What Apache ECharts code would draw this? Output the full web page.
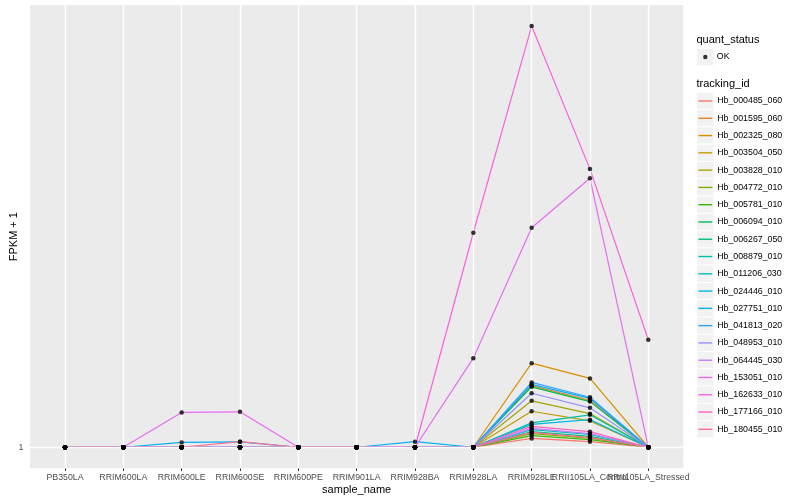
<!DOCTYPE html>
<html>
<head>
<meta charset="utf-8">
<script src="https://cdn.jsdelivr.net/npm/echarts@6/dist/echarts.min.js"></script>
<style>
html,body{margin:0;padding:0;background:#fff;}
#c{width:800px;height:500px;}
</style>
</head>
<body>
<div id="c"></div>
<script>
// ---- data ----
const sampleNames = ['PB350LA','RRIM600LA','RRIM600LE','RRIM600SE','RRIM600PE','RRIM901LA','RRIM928BA','RRIM928LA','RRIM928LE','RRII105LA_Control','RRII105LA_Stressed'];
const trackingIds = ['Hb_000485_060','Hb_001595_060','Hb_002325_080','Hb_003504_050','Hb_003828_010','Hb_004772_010','Hb_005781_010','Hb_006094_010','Hb_006267_050','Hb_008879_010','Hb_011206_030','Hb_024446_010','Hb_027751_010','Hb_041813_020','Hb_048953_010','Hb_064445_030','Hb_153051_010','Hb_162633_010','Hb_177166_010','Hb_180455_010'];
const trackingColors = ['#F8766D','#EA8331','#D89000','#C09B00','#A3A500','#7CAE00','#39B600','#00BB4E','#00BF7D','#00C1A3','#00BFC4','#00BAE0','#00B0F6','#35A2FF','#9590FF','#C77CFF','#E76BF3','#FA62DB','#FF62BC','#FF6C91'];
// FPKM + 1 per sample (same order as sampleNames)
const hb_000485_060 = [1,1,1,1,1,1,1,1,1.22,1.14,1];
const hb_001595_060 = [1,1,1,1,1,1,1,1,2.54,2.17,1];
const hb_002325_080 = [1,1,1,1,1,1,1,1,3.10,2.72,1];
const hb_003504_050 = [1,1,1,1,1,1,1,1,1.90,1.66,1];
const hb_003828_010 = [1,1,1,1,1,1,1,1,2.16,1.84,1];
const hb_004772_010 = [1,1,1,1,1,1,1,1,1.34,1.23,1];
const hb_005781_010 = [1,1,1,1,1,1,1,1,1.29,1.19,1];
const hb_006094_010 = [1,1,1,1,1,1,1,1,2.51,2.14,1];
const hb_006267_050 = [1,1,1,1,1,1,1,1,1.39,1.27,1];
const hb_008879_010 = [1,1,1,1,1,1,1,1,1.61,1.81,1];
const hb_011206_030 = [1,1,1,1,1,1,1,1,1.44,1.32,1];
const hb_024446_010 = [1,1,1,1,1,1,1,1,1.57,1.69,1];
const hb_027751_010 = [1,1,1.12,1.135,1,1,1.14,1,2.57,2.22,1];
const hb_041813_020 = [1,1,1,1,1,1,1,1,2.62,2.25,1];
const hb_048953_010 = [1,1,1,1,1,1,1,1,2.35,1.985,1];
const hb_064445_030 = [1,1,1,1,1,1,1,1,1.47,1.34,1];
const hb_153051_010 = [1,1,1.87,1.885,1,1,1,3.225,6.485,7.72,1];
const hb_162633_010 = [1,1,1,1,1,1,1,6.36,11.525,7.95,3.685];
const hb_177166_010 = [1,1,1,1,1,1,1,1,1.52,1.39,1];
const hb_180455_010 = [1,1,1,1.14,1,1,1,1,1.37,1.24,1];
const yTickValues = [1];
const quantStatus = ['OK'];

const seriesValues = [hb_000485_060,hb_001595_060,hb_002325_080,hb_003504_050,hb_003828_010,hb_004772_010,hb_005781_010,hb_006094_010,hb_006267_050,hb_008879_010,hb_011206_030,hb_024446_010,hb_027751_010,hb_041813_020,hb_048953_010,hb_064445_030,hb_153051_010,hb_162633_010,hb_177166_010,hb_180455_010];

// ---- chart ----
const FONT = "'Liberation Sans', Arial, Helvetica, sans-serif";
const idx = sampleNames.map((_, i) => i);
const xMax = sampleNames.length - 1 + 0.6;
// extra blank end entry so the automatic min/max-label overlap check never drops a real label
const xLabelValues = idx.concat([xMax]);
let vmin = Infinity, vmax = -Infinity;
seriesValues.forEach(a => a.forEach(v => { vmin = Math.min(vmin, v); vmax = Math.max(vmax, v); }));
const pad = 0.05 * (vmax - vmin);

const lineSeries = trackingIds.map((id, k) => ({
  name: id,
  type: 'line',
  symbol: 'none',
  showSymbol: false,
  z: 3,
  silent: true,
  itemStyle: { color: trackingColors[k] },
  lineStyle: { color: trackingColors[k], width: 1.2 },
  data: seriesValues[k].map((v, i) => [i, v])
}));

const pointData = [];
seriesValues.forEach(a => a.forEach((v, i) => pointData.push([i, v])));

const gridLines = [{ yAxis: 1 }].concat(idx.map(i => ({ xAxis: i })));

const KEY = 17.28;
const keyTop0 = 101;
const keyRects = trackingIds.map((id, k) => ({
  type: 'rect', z: 0,
  shape: { x: 696.7, y: keyTop0 - KEY / 2 + k * KEY, width: KEY, height: KEY },
  style: { fill: '#F2F2F2', stroke: '#FFFFFF', lineWidth: 1 }
}));
keyRects.push({
  type: 'rect', z: 0,
  shape: { x: 696.7, y: 57 - KEY / 2, width: KEY, height: KEY },
  style: { fill: '#F2F2F2', stroke: '#FFFFFF', lineWidth: 1 }
});

const option = {
  animation: false,
  textStyle: { fontFamily: FONT },
  title: [
    { text: 'quant_status', left: 696.5, top: 33.5, padding: 0,
      textStyle: { fontSize: 11, fontWeight: 'normal', color: '#000', fontFamily: FONT, lineHeight: 13 } },
    { text: 'tracking_id', left: 696.5, top: 77.5, padding: 0,
      textStyle: { fontSize: 11, fontWeight: 'normal', color: '#000', fontFamily: FONT, lineHeight: 13 } }
  ],
  graphic: keyRects,
  legend: [
    {
      data: trackingIds,
      orient: 'vertical',
      left: 698.4, top: 95, padding: 0,
      itemWidth: 13.8, itemHeight: 1.4, itemGap: KEY - 12,
      icon: 'rect',
      selectedMode: false,
      itemStyle: { borderWidth: 0 },
      textStyle: { fontSize: 8.8, color: '#000', lineHeight: 12, fontFamily: FONT }
    },
    {
      data: quantStatus,
      orient: 'vertical',
      left: 703.1, top: 51, padding: 0,
      itemWidth: 4.4, itemHeight: 4.4,
      icon: 'circle',
      selectedMode: false,
      itemStyle: { borderWidth: 0, color: '#000' },
      textStyle: { fontSize: 8.8, color: '#000', lineHeight: 12, fontFamily: FONT, padding: [0, 0, 0, 4.3] }
    }
  ],
  grid: { left: 30, right: 116.7, top: 5, bottom: 31.7, show: true, backgroundColor: '#EBEBEB', borderWidth: 0, containLabel: false, outerBoundsMode: 'none' },
  xAxis: {
    type: 'value',
    min: -0.6, max: xMax,
    name: 'sample_name', nameLocation: 'middle', nameGap: 16, nameMoveOverlap: false,
    nameTextStyle: { fontSize: 11, color: '#000', fontFamily: FONT },
    axisLine: { show: false },
    splitLine: { show: false },
    axisTick: { show: true, customValues: xLabelValues, length: 2.75, lineStyle: { color: '#333333', width: 1 } },
    axisLabel: { customValues: xLabelValues, formatter: v => (sampleNames[Math.round(v)] !== undefined && Math.abs(v - Math.round(v)) < 1e-6) ? sampleNames[Math.round(v)] : ' ', hideOverlap: false, showMinLabel: true, showMaxLabel: false, fontSize: 8.8, color: '#4D4D4D', margin: 4.5, fontFamily: FONT }
  },
  yAxis: {
    type: 'value',
    min: vmin - pad, max: vmax + pad,
    name: 'FPKM + 1', nameLocation: 'middle', nameGap: 11, nameMoveOverlap: false,
    nameTextStyle: { fontSize: 11, color: '#000', fontFamily: FONT },
    axisLine: { show: false },
    splitLine: { show: false },
    axisTick: { show: true, customValues: yTickValues, length: 2.75, lineStyle: { color: '#333333', width: 1 } },
    axisLabel: { customValues: yTickValues, formatter: v => String(v), fontSize: 8.8, color: '#4D4D4D', margin: 6.5, fontFamily: FONT }
  },
  series: [
    {
      name: '_grid', type: 'line', data: [], z: 1, silent: true,
      markLine: {
        silent: true, symbol: ['none', 'none'], animation: false,
        label: { show: false },
        lineStyle: { color: '#FFFFFF', width: 1.4, type: 'solid' },
        emphasis: { disabled: true },
        data: gridLines
      }
    }
  ].concat(lineSeries).concat([
    {
      name: 'OK', type: 'scatter', z: 5, silent: true,
      symbol: 'circle', symbolSize: 4.5,
      itemStyle: { color: '#000' },
      data: pointData
    }
  ])
};

const chart = echarts.init(document.getElementById('c'), null, { renderer: 'canvas' });
chart.setOption(option);
</script>
</body>
</html>
